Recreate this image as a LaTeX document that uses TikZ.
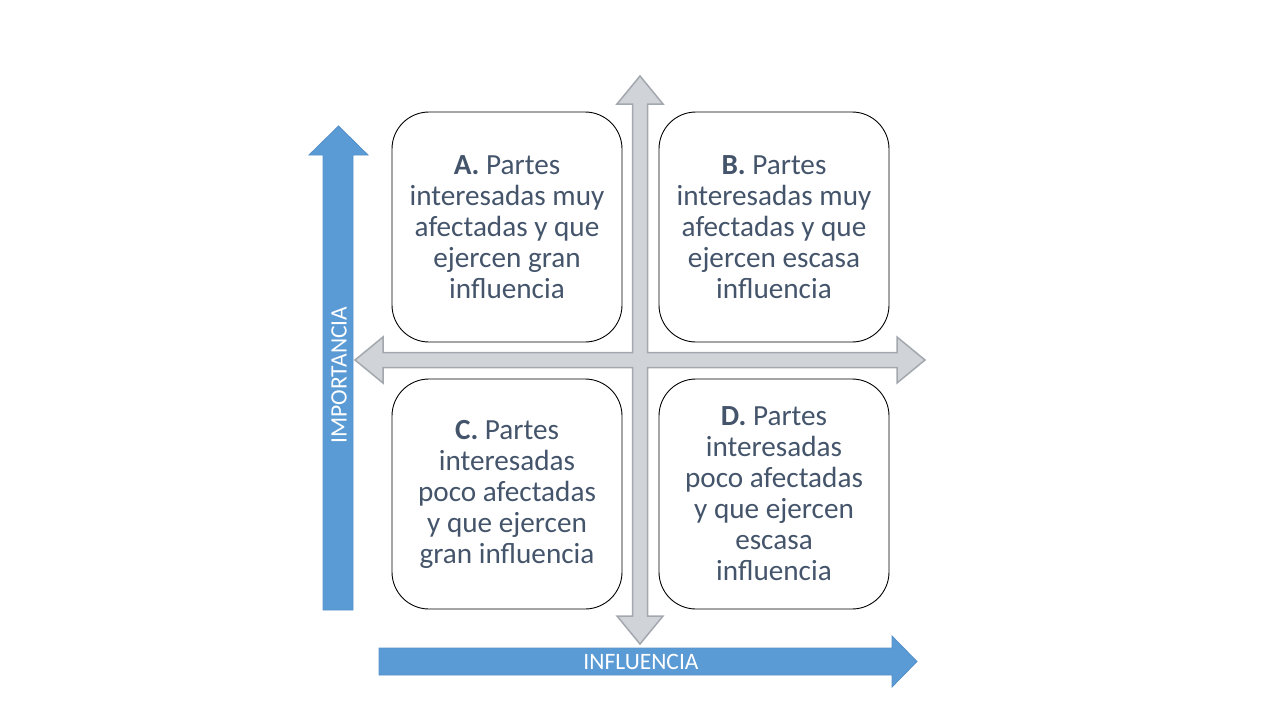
\documentclass[tikz,border=0pt]{standalone}
\usepackage{fontspec}
\setmainfont{Carlito}
\definecolor{txtc}{HTML}{44546A}
\definecolor{bluec}{HTML}{5B9BD5}
\definecolor{blueb}{HTML}{5590C8}
\definecolor{grayf}{HTML}{D0D3D8}
\definecolor{grayb}{HTML}{A3A7AE}
\tikzset{
  quad/.style={draw=black, line width=0.9pt, rounded corners=37pt, minimum width=230pt, minimum height=230pt, inner sep=0pt},
  qtext/.style={text=txtc, align=center, font=\fontsize{29.2}{31}\selectfont},
  bluearrow/.style={fill=bluec, draw=blueb, line width=0.8pt},
  crossarrow/.style={fill=grayf, draw=grayb, line width=1.5pt, line join=miter},
  axislabel/.style={text=white, font=\fontsize{23.5}{26}\selectfont, inner sep=0pt}
}
\begin{document}
\begin{tikzpicture}[x=1pt,y=-1pt]
\useasboundingbox (0,0) rectangle (1280,720);
% boxes
\node[quad] (A) at (507,227) {};
\node[quad] (B) at (774,227) {};
\node[quad] (C) at (507,494) {};
\node[quad] (D) at (774,494) {};
% gray cross arrow
\draw[crossarrow] (640,76) -- (663,104) -- (647.5,104) -- (647.5,352.5) -- (897,352.5) -- (897,337) -- (925,360) -- (897,383) -- (897,367.5) -- (647.5,367.5) -- (647.5,616) -- (663,616) -- (640,644) -- (617,616) -- (632.5,616) -- (632.5,367.5) -- (383,367.5) -- (383,383) -- (355,360) -- (383,337) -- (383,352.5) -- (632.5,352.5) -- (632.5,104) -- (617,104) -- cycle;
% texts
\node[qtext] (tA) at (A.center) {\textbf{A.} Partes\\interesadas muy\\afectadas y que\\ejercen gran\\influencia};
\node[qtext] (tB) at (B.center) {\textbf{B.} Partes\\interesadas muy\\afectadas y que\\ejercen escasa\\influencia};
\node[qtext] (tC) at (C.center) {\textbf{C.} Partes\\interesadas\\poco afectadas\\y que ejercen\\gran influencia};
\node[qtext] (tD) at (D.center) {\textbf{D.} Partes\\interesadas\\poco afectadas\\y que ejercen\\escasa\\influencia};
% blue vertical arrow
\draw[bluearrow] (323,610) -- (323,155) -- (309,155) -- (338.5,126) -- (368,155) -- (353,155) -- (353,610) -- cycle;
\node[axislabel, rotate=90] (imp) at (339,375) {IMPORTANCIA};
% blue horizontal arrow
\draw[bluearrow] (379,648) -- (892,648) -- (892,636) -- (917,661.5) -- (892,687) -- (892,675) -- (379,675) -- cycle;
\node[axislabel] (inf) at (641,662) {INFLUENCIA};
\end{tikzpicture}
\end{document}
